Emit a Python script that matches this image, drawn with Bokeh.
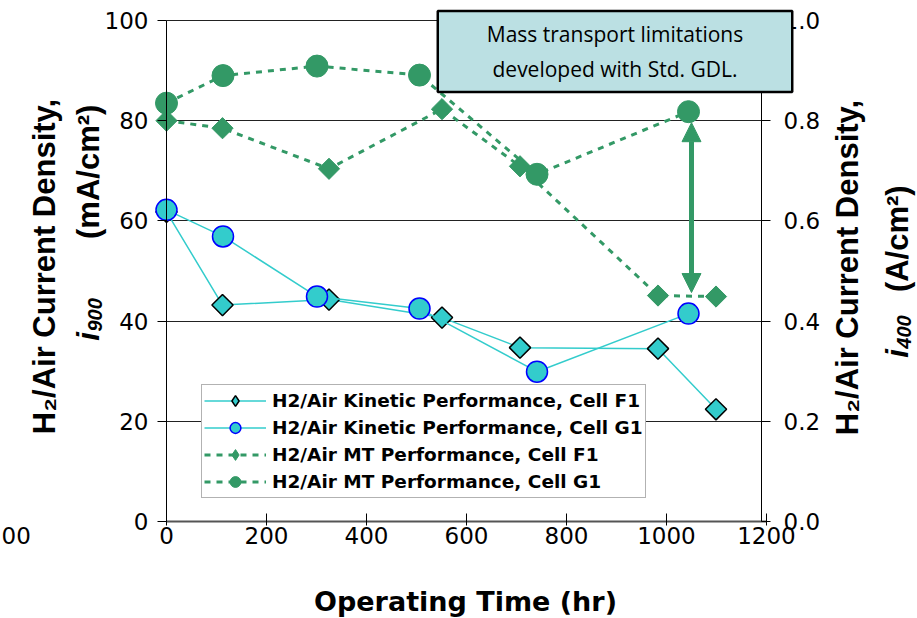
import math
from bokeh.plotting import figure
from bokeh.models import (Range1d, LinearAxis, FixedTicker, NumeralTickFormatter, Label,
                          Legend, LegendItem, Arrow, NormalHead)
from bokeh.embed import file_html
from bokeh.resources import INLINE

# ---------------- data ----------------
f1_time = [0, 112, 325, 551, 707, 983, 1099]
f1_kinetic_i900 = [61.8, 43.2, 44.3, 40.7, 34.7, 34.5, 22.4]
f1_mt_i400 = [0.800, 0.785, 0.704, 0.823, 0.709, 0.451, 0.449]

g1_time = [0, 113, 301, 506, 741, 1044]
g1_kinetic_i900 = [62.2, 56.9, 44.9, 42.5, 29.9, 41.5]
g1_mt_i400 = [0.835, 0.890, 0.909, 0.891, 0.693, 0.818]

x_ticks = [0, 200, 400, 600, 800, 1000, 1200]
left_ticks = [0, 20, 40, 60, 80, 100]
right_ticks = [0.0, 0.2, 0.4, 0.6, 0.8, 1.0]

arrow_time = 1050
arrow_top = 79.6
arrow_bottom = 45.7

CYAN = "#33CCCC"
GREEN = "#339966"
BLUE = "#0000FF"

# The frame covers the whole canvas; axes are pinned with fixed_location so that
# annotations around the plot area are not clipped.
X0, X1 = -332, 1502          # 0 -> 166 px, 1200 -> 766 px
Y0, Y1 = -19.36, 103.99      # 0 -> 521 px, 100 -> 20 px
p = figure(width=917, height=618, x_range=Range1d(X0, X1), y_range=Range1d(Y0, Y1),
           output_backend="svg", toolbar_location=None, tools="",
           min_border_left=0, min_border_right=0, min_border_top=0, min_border_bottom=0)
p.outline_line_color = None
p.background_fill_color = "white"
p.border_fill_color = "white"
p.extra_y_ranges = {"right": Range1d(Y0 / 100, Y1 / 100)}

TICK_FONT = "DejaVu Sans"

# bottom axis
xa = p.xaxis[0]
xa.ticker = FixedTicker(ticks=x_ticks)
xa.fixed_location = 0
xa.bounds = (0, 1200)
xa.axis_line_color = "#555555"
xa.axis_line_width = 2
xa.major_tick_in = 8
xa.major_tick_out = 4
xa.minor_tick_line_color = None
xa.major_label_standoff = 1
xa.major_label_text_font = TICK_FONT
xa.major_label_text_font_size = "23px"
xa.major_label_text_color = "black"

# left axis
ya = p.yaxis[0]
ya.ticker = FixedTicker(ticks=left_ticks)
ya.fixed_location = 0
ya.bounds = (0, 100)
ya.axis_line_color = "black"
ya.major_tick_in = 0
ya.major_tick_out = 9
ya.minor_tick_line_color = None
ya.major_label_standoff = 9
ya.major_label_text_font = TICK_FONT
ya.major_label_text_font_size = "23px"
ya.major_label_text_color = "black"

# right axis
ra = LinearAxis(y_range_name="right", ticker=FixedTicker(ticks=right_ticks),
                formatter=NumeralTickFormatter(format="0.0"))
ra.fixed_location = 1190
ra.bounds = (0, 1.0)
ra.axis_line_color = "black"
ra.major_tick_in = 0
ra.major_tick_out = 9
ra.minor_tick_line_color = None
ra.major_label_standoff = 13
ra.major_label_text_font = TICK_FONT
ra.major_label_text_font_size = "23px"
ra.major_label_text_color = "black"
p.add_layout(ra, "right")

p.xgrid.visible = False
grid = p.ygrid[0]
grid.ticker = FixedTicker(ticks=left_ticks[1:])
grid.grid_line_color = "#222222"
grid.grid_line_width = 1
if "cross_bounds" in grid.properties():
    grid.cross_bounds = (0, 1190)
else:
    grid.visible = False
    p.segment(x0=[0] * len(left_ticks[1:]), x1=[1190] * len(left_ticks[1:]),
              y0=left_ticks[1:], y1=left_ticks[1:], line_color="#222222", line_width=1)

# ---------------- series ----------------
l1 = p.line(f1_time, f1_kinetic_i900, line_color=CYAN, line_width=1.5)
s1 = p.scatter(f1_time, f1_kinetic_i900, marker="square", angle=math.pi / 4, size=15,
               fill_color=CYAN, line_color="black", line_width=1.5)
l2 = p.line(g1_time, g1_kinetic_i900, line_color=CYAN, line_width=1.5)
s2 = p.scatter(g1_time, g1_kinetic_i900, marker="circle", size=21,
               fill_color=CYAN, line_color=BLUE, line_width=1.5)
l3 = p.line(f1_time, f1_mt_i400, y_range_name="right", line_color=GREEN, line_width=3,
            line_dash="6 6")
s3 = p.scatter(f1_time, f1_mt_i400, y_range_name="right", marker="square", angle=math.pi / 4,
               size=15, fill_color=GREEN, line_color=GREEN)
l4 = p.line(g1_time, g1_mt_i400, y_range_name="right", line_color=GREEN, line_width=3,
            line_dash="6 6")
s4 = p.scatter(g1_time, g1_mt_i400, y_range_name="right", marker="circle", size=22,
               fill_color=GREEN, line_color=GREEN)

# legend-only diamond glyphs (the legend does not rotate markers)
d1 = p.scatter(f1_time, f1_kinetic_i900, marker="diamond", size=15, fill_color=CYAN,
               line_color="black", line_width=1.5, visible=False)
d3 = p.scatter(f1_time, f1_mt_i400, y_range_name="right", marker="diamond", size=15,
               fill_color=GREEN, line_color=GREEN, visible=False)

legend = Legend(items=[
    LegendItem(label="H2/Air Kinetic Performance, Cell F1", renderers=[l1, d1]),
    LegendItem(label="H2/Air Kinetic Performance, Cell G1", renderers=[l2, s2]),
    LegendItem(label="H2/Air MT Performance, Cell F1", renderers=[l3, d3]),
    LegendItem(label="H2/Air MT Performance, Cell G1", renderers=[l4, s4]),
], location=(201, 120))
legend.label_text_font = "DejaVu Sans"
legend.label_text_font_style = "bold"
legend.label_text_font_size = "18.5px"
legend.label_text_color = "black"
legend.glyph_width = 62
legend.glyph_height = 27
legend.label_height = 27
legend.spacing = 0
legend.padding = 2
legend.margin = 0
legend.label_standoff = 6
legend.border_line_color = "#666666"
legend.border_line_width = 1.5
legend.background_fill_color = "white"
legend.background_fill_alpha = 1
p.add_layout(legend)

# double-headed arrow
p.add_layout(Arrow(x_start=arrow_time, y_start=arrow_bottom, x_end=arrow_time, y_end=arrow_top,
                   line_color=GREEN, line_width=5,
                   start=NormalHead(size=19, fill_color=GREEN, line_color=GREEN),
                   end=NormalHead(size=19, fill_color=GREEN, line_color=GREEN)))

# annotation box
note = Label(x=897, y=93.8, text="Mass transport limitations\ndeveloped with Std. GDL.",
             text_align="center", text_baseline="middle", text_font="Open Sans",
             text_font_size="21px", text_color="black", text_line_height=1.25,
             background_fill_color="#BBE0E3", border_line_color="black", border_line_width=2.5,
             padding=dict(left=49, right=49, top=9, bottom=9), level="overlay")
p.add_layout(note)

# axis titles
def add_label(**kw):
    p.add_layout(Label(text_color="black", level="overlay", **kw))

TF = "Liberation Sans"
ROT = math.pi / 2

def title_block(x_line1, x_line2, y_center, i_start, sub_text, unit_text, unit_top):
    add_label(x=x_line1, y=y_center, text="H\u2082/Air Current Density,", angle=ROT,
              text_align="center", text_baseline="middle", text_font=TF,
              text_font_style="bold", text_font_size="31px")
    add_label(x=x_line2, y=i_start, text="i", angle=ROT, text_align="left",
              text_baseline="middle", text_font=TF, text_font_style="bold italic",
              text_font_size="31px")
    add_label(x=x_line2 + 13, y=i_start + 1.8, text=sub_text, angle=ROT, text_align="left",
              text_baseline="middle", text_font=TF, text_font_style="bold italic",
              text_font_size="20px")
    add_label(x=x_line2, y=unit_top, text=unit_text, angle=ROT,
              text_align="right", text_baseline="middle", text_font=TF,
              text_font_style="bold", text_font_size="31px")

title_block(-244, -156, 50.9, 36.1, "900", "(mA/cm\u00b2)", 83.2)
title_block(1362, 1462, 50.7, 32.7, "400", "(A/cm\u00b2)", 67.1)

add_label(x=598, y=-16.0, text="Operating Time (hr)", text_align="center",
          text_baseline="middle", text_font="DejaVu Sans", text_font_style="bold",
          text_font_size="27px")

add_label(x=-330, y=-2.8, text="00", text_align="left", text_baseline="middle",
          text_font=TICK_FONT, text_font_size="23px")

open("out.html", "w").write(file_html(p, INLINE))
